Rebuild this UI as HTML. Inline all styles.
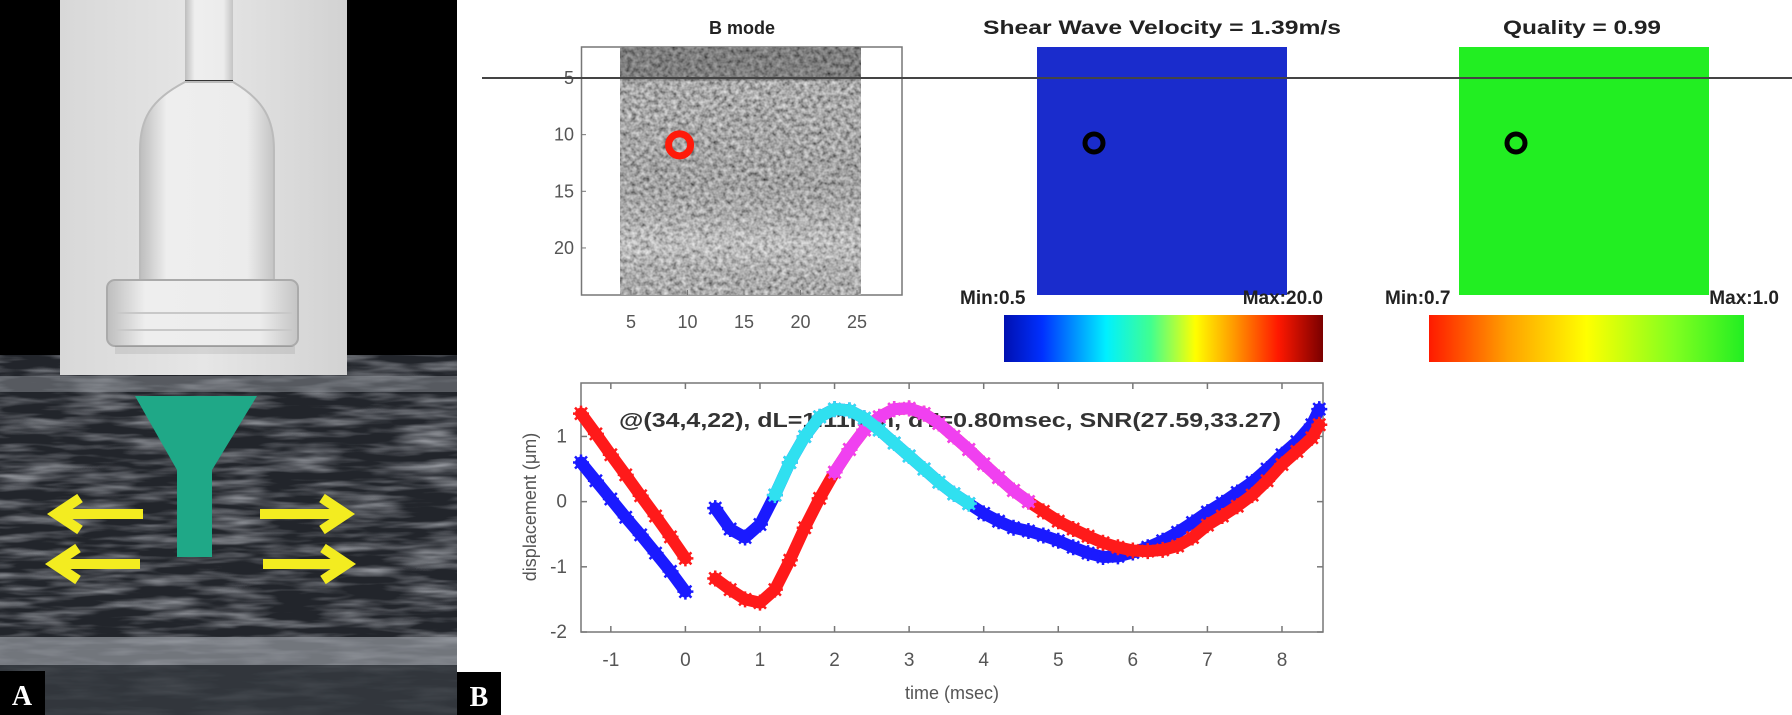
<!DOCTYPE html>
<html><head><meta charset="utf-8"><style>
html,body{margin:0;padding:0;background:#fff;}
svg{display:block;}
text{font-family:"Liberation Sans",Arial,sans-serif;}
</style></head><body>
<svg id="fig" width="1792" height="715" viewBox="0 0 1792 715" xmlns="http://www.w3.org/2000/svg">
<defs>
  <filter id="usTex" x="0" y="0" width="100%" height="100%">
    <feTurbulence type="fractalNoise" baseFrequency="0.015 0.11" numOctaves="3" seed="4" result="n"/>
    <feColorMatrix type="matrix" values="0 0 0 0 0.75  0 0 0 0 0.77  0 0 0 0 0.82  2.0 0 0 0 -0.8"/>
  </filter>
  <filter id="bTex" x="0" y="0" width="100%" height="100%">
    <feTurbulence type="fractalNoise" baseFrequency="0.22" numOctaves="2" seed="7"/>
    <feColorMatrix type="matrix" values="1.0 0 0 0 -0.05  1.0 0 0 0 -0.05  1.0 0 0 0 -0.05  0 0 0 0 1"/>
  </filter>
  <linearGradient id="probeBg" x1="0" x2="1" y1="0" y2="0">
    <stop offset="0" stop-color="#d8d8d8"/><stop offset="0.5" stop-color="#e6e6e6"/><stop offset="1" stop-color="#d2d2d2"/>
  </linearGradient>
  <linearGradient id="probeBody" x1="0" x2="1" y1="0" y2="0">
    <stop offset="0" stop-color="#bdbdbd"/><stop offset="0.2" stop-color="#eeeeee"/><stop offset="0.8" stop-color="#ececec"/><stop offset="1" stop-color="#c4c4c4"/>
  </linearGradient>
  <linearGradient id="jet" x1="0" x2="1" y1="0" y2="0">
    <stop offset="0" stop-color="#0010b0"/><stop offset="0.12" stop-color="#0030ff"/><stop offset="0.32" stop-color="#00f0ff"/>
    <stop offset="0.46" stop-color="#40ff90"/><stop offset="0.6" stop-color="#ffff00"/><stop offset="0.72" stop-color="#ff9a00"/>
    <stop offset="0.86" stop-color="#ff1800"/><stop offset="1" stop-color="#7a0000"/>
  </linearGradient>
  <linearGradient id="qual" x1="0" x2="1" y1="0" y2="0">
    <stop offset="0" stop-color="#ff1a00"/><stop offset="0.25" stop-color="#ffa000"/><stop offset="0.5" stop-color="#ffff00"/>
    <stop offset="0.78" stop-color="#80ff20"/><stop offset="1" stop-color="#22ee22"/>
  </linearGradient>
  <linearGradient id="bShade" x1="0" x2="0" y1="0" y2="1">
    <stop offset="0" stop-color="#000" stop-opacity="0.3"/><stop offset="0.13" stop-color="#000" stop-opacity="0.3"/>
    <stop offset="0.14" stop-color="#000" stop-opacity="0.05"/><stop offset="0.55" stop-color="#000" stop-opacity="0.1"/>
    <stop offset="0.8" stop-color="#fff" stop-opacity="0.15"/><stop offset="1" stop-color="#000" stop-opacity="0.05"/>
  </linearGradient>
</defs>

<!-- ============ Panel A ============ -->
<g>
  <rect x="0" y="0" width="457" height="715" fill="#000"/>
  <rect x="0" y="355" width="457" height="360" fill="#22252b"/>
  <rect x="0" y="355" width="457" height="360" filter="url(#usTex)" opacity="0.6"/>
  <rect x="0" y="376" width="457" height="16" fill="#8c9096" opacity="0.5"/>
  <rect x="0" y="637" width="457" height="28" fill="#8e9298" opacity="0.75"/>
  <rect x="0" y="665" width="457" height="50" fill="#35393f" opacity="0.85"/>
  <g>
    <rect x="60" y="0" width="287" height="375" fill="url(#probeBg)"/>
    <rect x="185" y="0" width="48" height="82" fill="url(#probeBody)"/>
    <line x1="185" y1="81" x2="233" y2="81" stroke="#333" stroke-width="2"/>
    <path d="M185 82 C150 100 140 120 140 150 L140 282 L274 282 L274 150 C274 120 264 100 233 82 Z" fill="url(#probeBody)" stroke="#bbb" stroke-width="2"/>
    <rect x="107" y="280" width="191" height="66" rx="8" fill="url(#probeBody)" stroke="#aaa" stroke-width="2"/>
    <line x1="115" y1="313" x2="292" y2="313" stroke="#c8c8c8" stroke-width="2"/>
    <line x1="115" y1="330" x2="292" y2="330" stroke="#c8c8c8" stroke-width="2"/>
    <rect x="115" y="346" width="180" height="8" fill="#000" opacity="0.08"/>
  </g>
  <polygon points="135,396 257,396 212,470 212,557 177,557 177,470" fill="#1fa887"/>
  <g stroke="#f3ec20" stroke-width="10" fill="none" stroke-linecap="butt" stroke-linejoin="miter">
    <line x1="143" y1="514" x2="60" y2="514"/><polyline points="80,498 56,514 80,530"/>
    <line x1="140" y1="564" x2="58" y2="564"/><polyline points="78,548 54,564 78,580"/>
    <line x1="260" y1="514" x2="342" y2="514"/><polyline points="322,498 346,514 322,530"/>
    <line x1="263" y1="564" x2="343" y2="564"/><polyline points="323,548 347,564 323,580"/>
  </g>
  <rect x="0" y="671" width="45" height="44" fill="#000"/>
  <text x="22" y="705" text-anchor="middle" fill="#fff" font-weight="bold" font-size="28" style="font-family:'Liberation Serif',serif">A</text>
</g>

<!-- ============ Panel B ============ -->
<g>
  <rect x="457" y="0" width="1335" height="715" fill="#fff"/>
  <rect x="457" y="672" width="44" height="43" fill="#000"/>
  <text x="479" y="706" text-anchor="middle" fill="#fff" font-weight="bold" font-size="28" style="font-family:'Liberation Serif',serif">B</text>

  <!-- B mode -->
  <text x="742" y="34" text-anchor="middle" font-weight="bold" font-size="18" fill="#222">B mode</text>
  <rect x="581.5" y="47" width="320.5" height="248" fill="#fff" stroke="#777" stroke-width="1.5"/>
  <g>
    <rect x="620" y="47" width="241" height="248" fill="#777"/>
    <rect x="620" y="47" width="241" height="248" filter="url(#bTex)"/>
    <rect x="620" y="47" width="241" height="248" fill="url(#bShade)"/>
  </g>
  <g id="bAxis"></g>
  <circle id="roiB" r="11" fill="none" stroke="#ff1a0a" stroke-width="7"/>

  <!-- SWV -->
  <text x="1162" y="34" text-anchor="middle" font-weight="bold" font-size="19" fill="#222" textLength="358" lengthAdjust="spacingAndGlyphs">Shear Wave Velocity = 1.39m/s</text>
  <rect x="1037" y="47" width="250" height="248" fill="#1a2ccc"/>
  <circle cx="1094" cy="143" r="9" fill="none" stroke="#000" stroke-width="5"/>
  <text x="960" y="304" font-weight="bold" font-size="19" fill="#222">Min:0.5</text>
  <text x="1323" y="304" text-anchor="end" font-weight="bold" font-size="19" fill="#222">Max:20.0</text>
  <rect x="1004" y="315" width="319" height="47" fill="url(#jet)"/>

  <!-- Quality -->
  <text x="1582" y="34" text-anchor="middle" font-weight="bold" font-size="19" fill="#222" textLength="158" lengthAdjust="spacingAndGlyphs">Quality = 0.99</text>
  <rect x="1459" y="47" width="250" height="248" fill="#22ee22"/>
  <circle cx="1516" cy="143" r="9" fill="none" stroke="#000" stroke-width="5"/>
  <text x="1385" y="304" font-weight="bold" font-size="19" fill="#222">Min:0.7</text>
  <text x="1779" y="304" text-anchor="end" font-weight="bold" font-size="19" fill="#222">Max:1.0</text>
  <rect x="1429" y="315" width="315" height="47" fill="url(#qual)"/>

  <line x1="482" y1="78" x2="1792" y2="78" stroke="#444" stroke-width="2"/>

  <!-- Displacement chart -->
  <g id="chart"></g>
</g>
</svg>

<script>
// ---- B mode axes data ----
const bXTicks = [5, 10, 15, 20, 25];
const bYTicks = [5, 10, 15, 20];
const roiX = 9.3, roiY = 10.9;

// ---- Displacement chart data ----
const xTicks = [-1, 0, 1, 2, 3, 4, 5, 6, 7, 8];
const yTicks = [-2, -1, 0, 1];
const tPre = [-1.4, -1.2, -1.0, -0.8, -0.6, -0.4, -0.2, 0];
const bluePre = [0.6, 0.32, 0.04, -0.24, -0.51, -0.79, -1.07, -1.38];
const redPre = [1.35, 1.04, 0.72, 0.41, 0.09, -0.22, -0.54, -0.87];
const tPost = [0.4,0.6,0.8,1.0,1.2,1.4,1.6,1.8,2.0,2.2,2.4,2.6,2.8,3.0,3.2,3.4,3.6,3.8,4.0,4.2,4.4,4.6,4.8,5.0,5.2,5.4,5.6,5.8,6.0,6.2,6.4,6.6,6.8,7.0,7.2,7.4,7.6,7.8,8.0,8.2,8.4,8.5];
const bluePost = [-0.1,-0.42,-0.55,-0.35,0.1,0.6,1.0,1.3,1.42,1.4,1.28,1.1,0.9,0.7,0.5,0.3,0.12,-0.03,-0.18,-0.3,-0.4,-0.45,-0.52,-0.6,-0.7,-0.79,-0.85,-0.84,-0.78,-0.7,-0.6,-0.47,-0.32,-0.16,-0.02,0.14,0.3,0.5,0.72,0.92,1.18,1.42];
const redPost = [-1.18,-1.35,-1.5,-1.55,-1.35,-0.9,-0.4,0.05,0.45,0.8,1.1,1.3,1.42,1.43,1.35,1.2,1.0,0.8,0.58,0.37,0.17,0.0,-0.15,-0.3,-0.42,-0.53,-0.63,-0.7,-0.75,-0.76,-0.74,-0.68,-0.55,-0.36,-0.22,-0.07,0.1,0.32,0.57,0.77,0.98,1.18];
const cyanRange = [1.1, 3.8];
const magentaRange = [1.95, 4.65];

const NS = 'http://www.w3.org/2000/svg';
function mk(tag, attrs, parent) {
  const e = document.createElementNS(NS, tag);
  for (const k in attrs) e.setAttribute(k, attrs[k]);
  parent.appendChild(e);
  return e;
}

// B mode axis functions
const bx = d => 631 + (d - 5) * 11.3;
const by = d => 78 + (d - 5) * 11.33;
const bAxis = document.getElementById('bAxis');
bXTicks.forEach(v => {
  const t = mk('text', {x: bx(v), y: 328, 'text-anchor': 'middle', 'font-size': 18, fill: '#555'}, bAxis);
  
  
  t.textContent = v;
  const l = mk('line', {x1: bx(v), x2: bx(v), y1: 295, y2: 290, stroke: '#777'}, bAxis);
  
  
});
bYTicks.forEach(v => {
  const t = mk('text', {x: 574, y: by(v) + 6, 'text-anchor': 'end', 'font-size': 18, fill: '#555'}, bAxis);
  
  
  t.textContent = v;
  const l = mk('line', {x1: 581.5, x2: 586, y1: by(v), y2: by(v), stroke: '#777'}, bAxis);
  
  
});
const roi = document.getElementById('roiB');
roi.setAttribute('cx', bx(roiX));
roi.setAttribute('cy', by(roiY));

// Displacement chart axis functions
const X0 = 581, X1 = 1323, Y0 = 383, Y1 = 632;
const xMin = -1.4, xMax = 8.55, yMin = -2, yMax = 1.82;
const sx = t => X0 + (t - xMin) / (xMax - xMin) * (X1 - X0);
const sy = v => Y1 - (v - yMin) / (yMax - yMin) * (Y1 - Y0);
const chart = document.getElementById('chart');

const box = mk('rect', {x: X0, y: Y0, width: X1 - X0, height: Y1 - Y0, fill: '#fff', stroke: '#777', 'stroke-width': 1.5}, chart);



xTicks.forEach(v => {
  const a = mk('line', {x1: sx(v), x2: sx(v), y1: Y1, y2: Y1 - 6, stroke: '#777', 'stroke-width': 1.5}, chart);
  
  
  const b = mk('line', {x1: sx(v), x2: sx(v), y1: Y0, y2: Y0 + 6, stroke: '#777', 'stroke-width': 1.5}, chart);
  
  
  const t = mk('text', {x: sx(v), y: 666, 'text-anchor': 'middle', 'font-size': 19, fill: '#555'}, chart);
  
  
  t.textContent = v;
});
yTicks.forEach(v => {
  const a = mk('line', {x1: X0, x2: X0 + 6, y1: sy(v), y2: sy(v), stroke: '#777', 'stroke-width': 1.5}, chart);
  
  
  const b = mk('line', {x1: X1, x2: X1 - 6, y1: sy(v), y2: sy(v), stroke: '#777', 'stroke-width': 1.5}, chart);
  
  
  const t = mk('text', {x: 567, y: sy(v) + 6, 'text-anchor': 'end', 'font-size': 19, fill: '#555'}, chart);
  
  
  t.textContent = v;
});
const xl = mk('text', {x: 952, y: 699, 'text-anchor': 'middle', 'font-size': 18, fill: '#555'}, chart);


xl.textContent = 'time (msec)';
const yl = mk('text', {x: 0, y: 0, 'text-anchor': 'middle', 'font-size': 18, fill: '#555', transform: 'translate(536,507) rotate(-90)'}, chart);


yl.textContent = 'displacement (\u03BCm)';

const ann = mk('text', {x: 619, y: 427, 'font-size': 20, 'font-weight': 'bold', fill: '#333', textLength: 662, lengthAdjust: 'spacingAndGlyphs'}, chart);


ann.textContent = '@(34,4,22), dL=1.11mm, dT=0.80msec, SNR(27.59,33.27)';

function drawSeries(ts, vs, color, name, range) {
  const pts = [];
  for (let i = 0; i < ts.length; i++) {
    if (range && (ts[i] < range[0] || ts[i] > range[1])) continue;
    pts.push(sx(ts[i]).toFixed(1) + ',' + sy(vs[i]).toFixed(1));
  }
  if (pts.length < 2) return;
  const g = mk('g', {}, chart);
  
  
  const pl = mk('polyline', {points: pts.join(' '), fill: 'none', stroke: color, 'stroke-width': 12, 'stroke-linejoin': 'round', 'stroke-linecap': 'round'}, g);
  
  
  for (let i = 0; i < ts.length; i++) {
    if (range && (ts[i] < range[0] || ts[i] > range[1])) continue;
    const cx = sx(ts[i]), cy = sy(vs[i]);
    const m = mk('path', {d: `M${cx-8},${cy}H${cx+8}M${cx},${cy-8}V${cy+8}M${cx-6},${cy-6}L${cx+6},${cy+6}M${cx-6},${cy+6}L${cx+6},${cy-6}`, stroke: color, 'stroke-width': 2.5}, g);
    
    
  }
}
drawSeries(tPre, bluePre, '#1a1aff', 'blue-series-pre');
drawSeries(tPre, redPre, '#ff1a1a', 'red-series-pre');
drawSeries(tPost, bluePost, '#1a1aff', 'blue-series');
drawSeries(tPost, redPost, '#ff1a1a', 'red-series');
drawSeries(tPost, redPost, '#f040f0', 'red-series-fit-window', magentaRange);
drawSeries(tPost, bluePost, '#30e0f0', 'blue-series-fit-window', cyanRange);
</script>
</body></html>
